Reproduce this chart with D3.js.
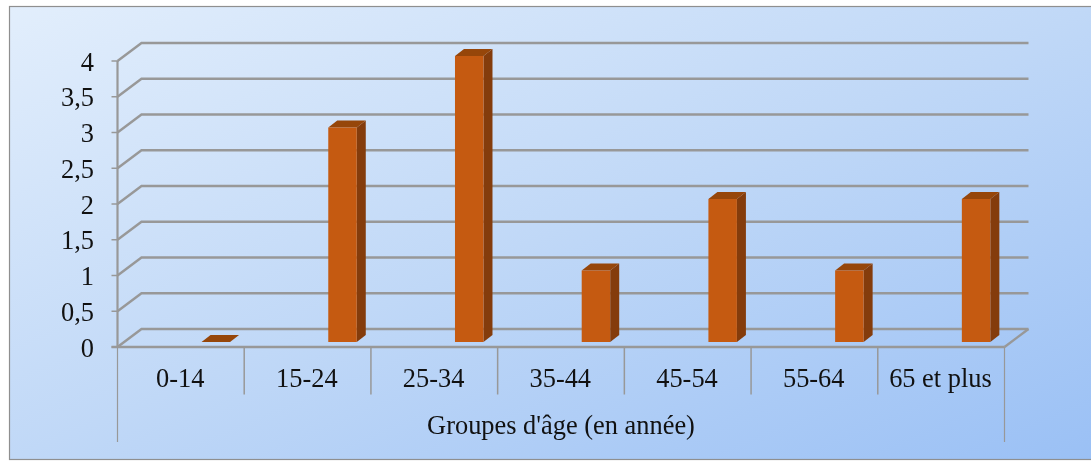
<!DOCTYPE html>
<html><head><meta charset="utf-8">
<script src="https://cdn.jsdelivr.net/npm/d3@7/dist/d3.min.js"></script>
<style>html,body{margin:0;padding:0;background:#fff;overflow:hidden}svg{display:block;filter:blur(0.45px)}text{font-family:"Liberation Serif",serif;fill:#111}</style>
</head><body><svg id="c" width="1091" height="463"></svg>
<script>
const categories=["0-14","15-24","25-34","35-44","45-54","55-64","65 et plus"];
const values=[0,3,4,1,2,1,2];
const yTicks=[0,0.5,1,1.5,2,2.5,3,3.5,4];
const xTitle="Groupes d'âge (en année)";

const svg=d3.select("#c");
const x=d3.scaleBand().domain(categories).range([117.5,1004.5]);
const y=d3.scaleLinear().domain([0,4]).range([347,61]);
const dx=24,dy=-18;
const grad=svg.append("defs").append("linearGradient").attr("id","bg").attr("x1","0").attr("y1","0").attr("x2","1").attr("y2","1");
grad.append("stop").attr("offset","0").attr("stop-color","#e2eefc");
grad.append("stop").attr("offset","0.5").attr("stop-color","#c0d8f7");
grad.append("stop").attr("offset","1").attr("stop-color","#9ac0f5");
svg.append("rect").attr("x",9.5).attr("y",6.5).attr("width",1090).attr("height",453).attr("fill","url(#bg)").attr("stroke","#8f8f8f").attr("stroke-width",1.2);

const grid="#989898";
yTicks.forEach(t=>{
  svg.append("path").attr("fill","none").attr("stroke",grid).attr("stroke-width",2.4)
   .attr("d",d3.line()([[x.range()[0],y(t)],[x.range()[0]+dx,y(t)+dy],[x.range()[1]+dx,y(t)+dy]]));
  svg.append("line").attr("x1",x.range()[0]-6).attr("x2",x.range()[0]).attr("y1",y(t)).attr("y2",y(t)).attr("stroke",grid).attr("stroke-width",1.5);
  svg.append("text").attr("x",94).attr("y",y(t)).attr("dy","0.36em").attr("text-anchor","end").attr("font-size",26.4).text(String(t).replace(".",","));
});
svg.append("line").attr("x1",x.range()[1]).attr("y1",y(0)).attr("x2",x.range()[1]+dx).attr("y2",y(0)+dy).attr("stroke",grid).attr("stroke-width",2.4);
svg.append("line").attr("x1",x.range()[0]).attr("x2",x.range()[0]).attr("y1",y(4)).attr("y2",y(0)).attr("stroke",grid).attr("stroke-width",2.2);
svg.append("line").attr("x1",x.range()[0]-6).attr("x2",x.range()[1]).attr("y1",y(0)).attr("y2",y(0)).attr("stroke",grid).attr("stroke-width",2.4);
categories.forEach((c,i)=>{
  const xs=x(c);
  if(i>0) svg.append("line").attr("x1",xs).attr("x2",xs).attr("y1",y(0)).attr("y2",394.5).attr("stroke",grid).attr("stroke-width",1.5);
  svg.append("text").attr("x",xs+x.bandwidth()/2-0.7).attr("y",387).attr("text-anchor","middle").attr("font-size",26.4).text(c);
});
[x.range()[0],x.range()[1]].forEach(v=>svg.append("line").attr("x1",v).attr("x2",v).attr("y1",y(0)).attr("y2",442).attr("stroke",grid).attr("stroke-width",1.2));
svg.append("text").attr("x",(x.range()[0]+x.range()[1])/2).attr("y",434).attr("text-anchor","middle").attr("font-size",26.4).text(xTitle);
const bw=28.5,bdx=9,bdy=-7,shift=20.7,lift=5;
const g=svg.selectAll("g.bar").data(categories).join("g").attr("class","bar");
g.each(function(c,i){
  const s=d3.select(this),l=x(c)+x.bandwidth()/2+shift,b=y(0)-lift,t=y(values[i])-lift,r=l+bw;
  s.append("path").attr("fill","#843c0c").attr("d",d3.line()([[r,t],[r+bdx,t+bdy],[r+bdx,b+bdy],[r,b]]));
  s.append("path").attr("fill","#96460a").attr("d",d3.line()([[l,t],[l+bdx,t+bdy],[r+bdx,t+bdy],[r,t]]));
  if(values[i]>0) s.append("rect").attr("x",l).attr("y",t).attr("width",bw).attr("height",b-t).attr("fill","#c55a11");
});
</script></body></html>
